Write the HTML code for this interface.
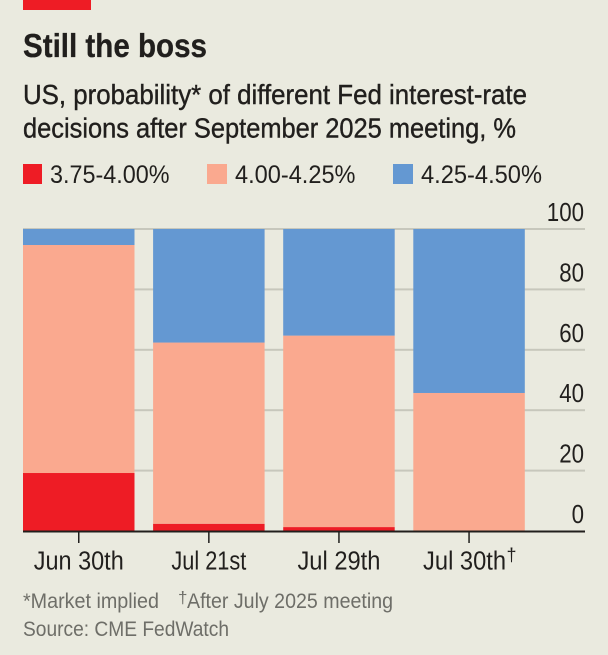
<!DOCTYPE html>
<html>
<head>
<meta charset="utf-8">
<style>
html,body{margin:0;padding:0;background:#EAEADF;}
svg{display:block;font-family:"Liberation Sans",sans-serif;}
</style>
</head>
<body>
<svg id="chart" xmlns="http://www.w3.org/2000/svg" width="608" height="655" viewBox="0 0 608 655">
  <rect x="0" y="0" width="608" height="655" fill="#EAEADF"/>
  <rect x="23" y="0" width="68" height="10" fill="#EE1C25"/>
  <text x="23" y="57" font-size="33" font-weight="700" fill="#211F1D" stroke="#211F1D" stroke-width="0.3" textLength="184" lengthAdjust="spacingAndGlyphs">Still the boss</text>
  <text x="23" y="104" font-size="28" fill="#211F1D" stroke="#211F1D" stroke-width="0.4" textLength="504" lengthAdjust="spacingAndGlyphs">US, probability* of different Fed interest-rate</text>
  <text x="23" y="137.500" font-size="28" fill="#211F1D" stroke="#211F1D" stroke-width="0.4" textLength="493" lengthAdjust="spacingAndGlyphs">decisions after September 2025 meeting, %</text>

  <rect x="23" y="164" width="19" height="20" fill="#EE1C25"/>
  <text x="50" y="183" font-size="25" fill="#211F1D" textLength="119.500" lengthAdjust="spacingAndGlyphs">3.75-4.00%</text>
  <rect x="207" y="164" width="20" height="20" fill="#FAA98F"/>
  <text x="235" y="183" font-size="25" fill="#211F1D" textLength="120.500" lengthAdjust="spacingAndGlyphs">4.00-4.25%</text>
  <rect x="393" y="164" width="20" height="20" fill="#6498D2"/>
  <text x="421" y="183" font-size="25" fill="#211F1D" textLength="121" lengthAdjust="spacingAndGlyphs">4.25-4.50%</text>

  <g id="grid"></g>
  <g id="bars"></g>
  <g id="axis"></g>

  <text x="23" y="608" font-size="21" fill="#6E6E68" textLength="136" lengthAdjust="spacingAndGlyphs">*Market implied</text>
  <text x="178" y="603" font-size="17" fill="#6E6E68">†</text>
  <text x="187" y="608" font-size="21" fill="#6E6E68" textLength="206" lengthAdjust="spacingAndGlyphs">After July 2025 meeting</text>
  <text x="23" y="636" font-size="21" fill="#6E6E68" textLength="206" lengthAdjust="spacingAndGlyphs">Source: CME FedWatch</text>
</svg>
<script>
const categories = ["Jun 30th", "Jul 21st", "Jul 29th", "Jul 30th"];
const categoryLabelMarks = ["", "", "", "†"];
const series3750 = [19.2, 2.4, 1.3, 0];
const series4000 = [75.5, 60, 63.4, 45.7];
const series4250 = [5.3, 37.6, 35.3, 54.3];
const yTicks = [0, 20, 40, 60, 80, 100];

const NS = 'http://www.w3.org/2000/svg';
const plotTop = 229, plotBottom = 531, plotLeft = 23, plotRight = 585;
const bandStep = 130.1, barWidth = 111.5;
const markWidth = 9;
const labelFit = {"Jun 30th": 90, "Jul 21st": 75, "Jul 29th": 83, "Jul 30th": 83};
function yScale(v) { return plotBottom - (v / 100) * (plotBottom - plotTop); }
function xBandLeft(i) { return plotLeft + i * bandStep; }
function xCenter(i) { return xBandLeft(i) + barWidth / 2; }
function make(tag, attrs, parent) {
  const el = document.createElementNS(NS, tag);
  for (const k in attrs) el.setAttribute(k, attrs[k]);
  parent.appendChild(el);
  return el;
}
const gridG = document.getElementById('grid');
const barsG = document.getElementById('bars');
const axisG = document.getElementById('axis');

yTicks.forEach(function (t) {
  if (t !== 0) {
    const line = make('rect', {x: plotLeft, y: yScale(t) - 1, width: plotRight - plotLeft, height: 2, fill: '#C7C7BC'}, gridG);
    
    
  }
  const label = make('text', {x: 584, y: yScale(t) - 8, 'font-size': 25.5, fill: '#211F1D', 'text-anchor': 'end', textLength: String(t).length * 12.4, lengthAdjust: 'spacingAndGlyphs'}, axisG);
  label.textContent = String(t);
  
  
});

const stackSeries = [
  {name: 'low', values: series3750, color: '#EE1C25'},
  {name: 'mid', values: series4000, color: '#FAA98F'},
  {name: 'high', values: series4250, color: '#6498D2'}
];
categories.forEach(function (cat, i) {
  let base = 0;
  stackSeries.forEach(function (s) {
    const v = s.values[i];
    const top = base + v;
    const seg = make('rect', {x: xBandLeft(i), y: yScale(top), width: barWidth, height: Math.max(0, yScale(base) - yScale(top)), fill: s.color}, barsG);
    
    
    base = top;
  });
});

const baseline = make('rect', {x: plotLeft, y: plotBottom - 0.5, width: plotRight - plotLeft, height: 2, fill: '#211F1D'}, axisG);



categories.forEach(function (cat, i) {
  const cx = xCenter(i);
  const tick = make('rect', {x: cx - 0.75, y: plotBottom, width: 1.5, height: 12, fill: '#211F1D'}, axisG);
  
  
  const w = labelFit[cat] || cat.length * 10.4;
  const hasMark = !!categoryLabelMarks[i];
  const labelCx = hasMark ? cx - markWidth / 2 : cx;
  const label = make('text', {x: labelCx, y: 569.5, 'font-size': 25.5, fill: '#211F1D', 'text-anchor': 'middle', textLength: w, lengthAdjust: 'spacingAndGlyphs'}, axisG);
  label.textContent = cat;
  
  
  if (hasMark) {
    const mark = make('text', {x: labelCx + w / 2 + 0.5, y: 561, 'font-size': 18, fill: '#211F1D'}, axisG);
    mark.textContent = categoryLabelMarks[i];
    
    
  }
});
</script>
</body>
</html>
